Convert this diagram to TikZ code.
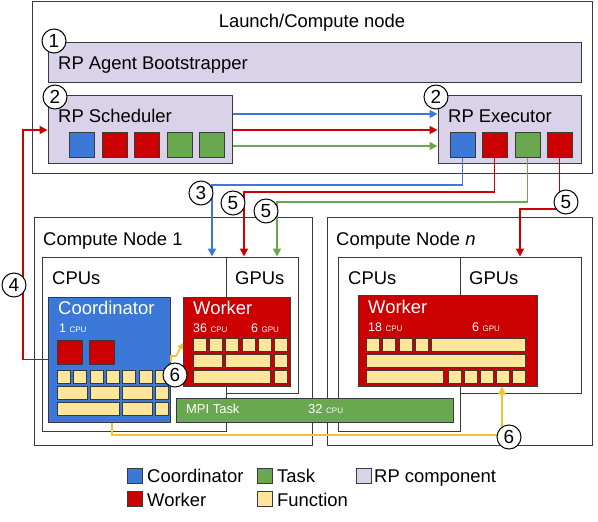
\documentclass[tikz,border=0pt]{standalone}
\usepackage{fontspec}
\setmainfont{Liberation Sans}
\usetikzlibrary{arrows.meta,fit}
\definecolor{rpblue}{HTML}{3C78D8}
\definecolor{rpred}{HTML}{CC0000}
\definecolor{rpgreen}{HTML}{6AA84F}
\definecolor{rpfunc}{HTML}{FFE599}
\definecolor{rpgold}{HTML}{F1C232}
\definecolor{rpcomp}{HTML}{D9D2E9}
\definecolor{rpedge}{HTML}{3A3A3A}
\tikzset{
  box/.style={draw=rpedge,line width=1bp,inner sep=0pt},
  sq/.style={draw=rpedge,line width=1bp,inner sep=0pt,minimum width=25bp,minimum height=25bp},
  fn/.style={draw=rpedge,line width=1bp,fill=rpfunc},
  num/.style={circle,draw=black,line width=1bp,fill=white,inner sep=0pt,minimum size=24bp,font=\fontsize{19}{19}\selectfont},
  txt/.style={anchor=base west,inner sep=0pt,font=\fontsize{18.5}{20}\selectfont},
  wtxt/.style={txt,text=white},
  cnt/.style={anchor=base west,inner sep=0pt,text=white,font=\fontsize{12.5}{13}\selectfont},
  conn/.style={line width=1.7bp,-{Triangle[length=8bp,width=8bp]}}
}
\newcommand\unit[1]{{\fontsize{8}{9}\selectfont #1}}
\begin{document}
\begin{tikzpicture}[x=1bp,y=-1bp]
\path[fill=white,use as bounding box] (0,0) rectangle (598,522);
% launch node
\node[box,fit={(32,2) (592,174)}] (launch) {};
\node[txt,anchor=base] (launchlbl) at (312,28) {Launch/Compute node};
\node[box,fill=rpcomp,fit={(48,43) (581,83)}] (boot) {};
\node[txt] (bootlbl) at (58,70) {RP Agent Bootstrapper};
\node[box,fill=rpcomp,fit={(48,96) (232,164)}] (sched) {};
\node[txt] (schedlbl) at (58,123) {RP Scheduler};
\node[box,fill=rpcomp,fit={(438,96) (581,164)}] (exec) {};
\node[txt] (execlbl) at (448,123) {RP Executor};
\node[sq,fill=rpblue] (s1) at (81.5,145.5) {};
\node[sq,fill=rpred] (s2) at (114.5,145.5) {};
\node[sq,fill=rpred] (s3) at (146.5,145.5) {};
\node[sq,fill=rpgreen] (s4) at (179.5,145.5) {};
\node[sq,fill=rpgreen] (s5) at (211.5,145.5) {};
\node[sq,fill=rpblue] (e1) at (462.5,145.5) {};
\node[sq,fill=rpred] (e2) at (494.5,145.5) {};
\node[sq,fill=rpgreen] (e3) at (527.5,145.5) {};
\node[sq,fill=rpred] (e4) at (559.5,145.5) {};
\draw[conn,rpblue] ([yshift=16bp]sched.east) -- ([yshift=16bp]exec.west);
\draw[conn,rpred] (sched.east) -- (exec.west);
\draw[conn,rpgreen] ([yshift=-16bp]sched.east) -- ([yshift=-16bp]exec.west);
% compute node 1
\node[box,fit={(34,218) (312,445)}] (node1) {};
\node[txt] (node1lbl) at (43,245) {Compute Node 1};
\node[box,fit={(42,257) (226,431)}] (cpu1) {};
\node[box,fit={(226,257) (298,393)}] (gpu1) {};
\node[txt] (cpu1lbl) at (52,284) {CPUs};
\node[txt] (gpu1lbl) at (235,284) {GPUs};
% compute node n
\node[box,fit={(327,218) (592,445)}] (noden) {};
\node[txt] (nodenlbl) at (336,245) {Compute Node \textit{n}};
\node[box,fit={(338,257) (460,431)}] (cpun) {};
\node[box,fit={(460,257) (581,393)}] (gpun) {};
\node[txt] (cpunlbl) at (348,284) {CPUs};
\node[txt] (gpunlbl) at (469,284) {GPUs};
% coordinator
\node[box,fill=rpblue,fit={(48,297) (170,422)}] (coord) {};
\node[wtxt] (coordlbl) at (58,314) {Coordinator};
\node[cnt] (coordcpu) at (59,332) {1 \unit{CPU}};
\node[box,fill=rpred,minimum width=25bp,minimum height=24bp] (cw1) at (69.5,352) {};
\node[box,fill=rpred,minimum width=25bp,minimum height=24bp] (cw2) at (101.5,352) {};
\draw[fn] (57,370) rectangle (70,383);
\draw[fn] (73,370) rectangle (86,383);
\draw[fn] (90,370) rectangle (103,383);
\draw[fn] (106,370) rectangle (119,383);
\draw[fn] (122,370) rectangle (135,383);
\draw[fn] (139,370) rectangle (152,383);
\draw[fn] (155,370) rectangle (168,383);
\draw[fn] (57,386) rectangle (87,399);
\draw[fn] (90,386) rectangle (119,399);
\draw[fn] (122,386) rectangle (152,399);
\draw[fn] (155,386) rectangle (168,399);
\draw[fn] (57,402) rectangle (119,415);
\draw[fn] (122,402) rectangle (152,415);
\draw[fn] (155,402) rectangle (168,415);
% worker on node 1
\node[box,fill=rpred,fit={(183,297) (290,386)}] (w1) {};
\node[wtxt] (w1lbl) at (193,314) {Worker};
\node[cnt] (w1cpu) at (193,332) {36 \unit{CPU}};
\node[cnt] (w1gpu) at (251,332) {6 \unit{GPU}};
\draw[fn] (193,338) rectangle (206,351);
\draw[fn] (209,338) rectangle (222,351);
\draw[fn] (225,338) rectangle (238,351);
\draw[fn] (242,338) rectangle (255,351);
\draw[fn] (258,338) rectangle (271,351);
\draw[fn] (274,338) rectangle (287,351);
\draw[fn] (193,354) rectangle (222,367);
\draw[fn] (225,354) rectangle (270,367);
\draw[fn] (274,354) rectangle (287,367);
\draw[fn] (193,370) rectangle (270,383);
\draw[fn] (274,370) rectangle (287,383);
% worker on node n
\node[box,fill=rpred,fit={(358,295) (537,386)}] (wn) {};
\node[wtxt] (wnlbl) at (368,313) {Worker};
\node[cnt] (wncpu) at (368,331) {18 \unit{CPU}};
\node[cnt] (wngpu) at (472,331) {6 \unit{GPU}};
\draw[fn] (366,338) rectangle (379,351);
\draw[fn] (382,338) rectangle (395,351);
\draw[fn] (399,338) rectangle (412,351);
\draw[fn] (415,338) rectangle (428,351);
\draw[fn] (431,338) rectangle (525,351);
\draw[fn] (366,354) rectangle (525,367);
\draw[fn] (366,370) rectangle (443,383);
\draw[fn] (448,370) rectangle (461,383);
\draw[fn] (464,370) rectangle (477,383);
\draw[fn] (480,370) rectangle (493,383);
\draw[fn] (496,370) rectangle (509,383);
\draw[fn] (512,370) rectangle (525,383);
% mpi task
\node[box,fill=rpgreen,fit={(176,398) (453,422)}] (mpi) {};
\node[cnt,font=\fontsize{13}{14}\selectfont] (mpilbl) at (186,413) {MPI Task};
\node[cnt,font=\fontsize{13}{14}\selectfont] (mpicpu) at (308,413) {32 \unit{CPU}};
% executor to compute nodes
\coordinate (k3) at (212,185);
\coordinate (k5a) at (244,192);
\coordinate (k5b) at (277,202);
\coordinate (k5c) at (520,209);
\draw[conn,rpblue] (e1.south) |- (k3) -- (k3 |- cpu1.north);
\draw[conn,rpred] (e2.south) |- (k5a) -- (k5a |- gpu1.north);
\draw[conn,rpgreen] (e3.south) |- (k5b) -- (k5b |- gpu1.north);
\draw[conn,rpred] (e4.south) |- (k5c) -- (k5c |- gpun.north);
% coordinator back to scheduler
\coordinate (k4) at (23,245);
\draw[conn,rpred] (coord.west) -| (k4) |- (sched.west);
% functions
\coordinate (k6a) at (176,356);
\coordinate (k6b) at (183,343);
\draw[conn,rpgold,-{Triangle[length=6bp,width=6bp]}] (171,362) |- (k6a) -- (k6b);
\coordinate (k6c) at (502,435);
\draw[conn,rpgold] ([xshift=3bp]coord.south) |- (k6c) -- (k6c |- wn.south);
% step numbers
\node[num] (n1) at (54,41) {1};
\node[num] (n2a) at (55,97) {2};
\node[num] (n2b) at (436,97) {2};
\node[num] (n3) at (201,193) {3};
\node[num] (n5a) at (233,203) {5};
\node[num] (n5b) at (266,211) {5};
\node[num] (n5c) at (566,202) {5};
\node[num] (n4) at (14,285) {4};
\node[num] (n6a) at (175,375) {6};
\node[num] (n6b) at (509,437) {6};
% legend
\node[box,fill=rpblue,minimum size=15bp] (lgcoord) at (134.5,475.5) {};
\node[txt] (lgcoordlbl) at (147,482) {Coordinator};
\node[box,fill=rpred,minimum size=15bp] (lgwork) at (134.5,498.5) {};
\node[txt] (lgworklbl) at (147,506) {Worker};
\node[box,fill=rpgreen,minimum size=15bp] (lgtask) at (264.5,475.5) {};
\node[txt] (lgtasklbl) at (277,482) {Task};
\node[box,fill=rpfunc,minimum size=15bp] (lgfunc) at (264.5,498.5) {};
\node[txt] (lgfunclbl) at (277,506) {Function};
\node[box,fill=rpcomp,minimum size=15bp] (lgcomp) at (363.5,475.5) {};
\node[txt] (lgcomplbl) at (374,482) {RP component};
\end{tikzpicture}
\end{document}
